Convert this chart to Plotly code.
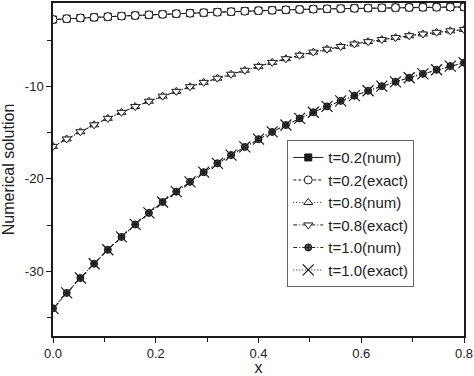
import plotly.graph_objects as go

x_vals = [round(i * 0.8 / 30, 5) for i in range(31)]

t02_num = [-2.79, -2.70, -2.62, -2.55, -2.48, -2.41, -2.35, -2.28, -2.22, -2.16,
           -2.10, -2.05, -1.99, -1.94, -1.88, -1.83, -1.78, -1.74, -1.70, -1.66,
           -1.63, -1.60, -1.57, -1.55, -1.52, -1.50, -1.48, -1.46, -1.45, -1.44, -1.43]
t02_exact = list(t02_num)

t08_num = [-16.50, -15.70, -14.92, -14.17, -13.47, -12.82, -12.20, -11.62, -11.07, -10.55,
           -10.05, -9.58, -9.13, -8.70, -8.27, -7.85, -7.42, -7.02, -6.65, -6.31,
           -5.99, -5.70, -5.43, -5.18, -4.95, -4.74, -4.54, -4.35, -4.17, -4.01, -3.86]
t08_exact = list(t08_num)

t10_num = [-34.01, -32.34, -30.73, -29.19, -27.68, -26.29, -24.94, -23.69, -22.51, -21.40,
           -20.33, -19.29, -18.33, -17.44, -16.56, -15.72, -14.94, -14.19, -13.48, -12.81,
           -12.18, -11.58, -11.02, -10.49, -9.99, -9.52, -9.08, -8.66, -8.22, -7.82, -7.45]
t10_exact = list(t10_num)

names = ["t=0.2(num)", "t=0.2(exact)", "t=0.8(num)", "t=0.8(exact)", "t=1.0(num)", "t=1.0(exact)"]

x_tickvals = [0.0, 0.2, 0.4, 0.6, 0.8]
x_ticktext = ["0.0", "0.2", "0.4", "0.6", "0.8"]
y_tickvals = [-30, -20, -10]
y_ticktext = ["-30", "-20", "-10"]

FONT = "Liberation Sans, Arial, sans-serif"

fig = go.Figure()

def add(y, name, dash, symbol, size, fill, lw=1.0, mlw=1.0):
    fig.add_trace(go.Scatter(
        x=x_vals, y=y, name=name, mode="lines+markers",
        line=dict(color="#1a1a1a", width=lw, dash=dash),
        marker=dict(symbol=symbol, size=size, color=fill,
                    line=dict(color="#1a1a1a", width=mlw)),
    ))

add(t02_num, names[0], "solid", "square", 7, "#1a1a1a")
add(t02_exact, names[1], "3px,2px", "circle", 8, "white")
add(t08_num, names[2], "1px,2px", "triangle-up", 8, "white")
add(t08_exact, names[3], "4px,2px,1px,2px", "triangle-down", 8, "white")
add(t10_num, names[4], "4px,2px,1px,2px", "circle-cross", 7, "#555555")
add(t10_exact, names[5], "1px,2px", "x-thin", 11, "#1a1a1a", mlw=1.2)

axis_common = dict(
    showline=True, linecolor="#1a1a1a", linewidth=1.5, mirror=True,
    showgrid=False, zeroline=False,
    ticks="outside", ticklen=5, tickwidth=1, tickcolor="#1a1a1a",
    tickfont=dict(family=FONT, size=13, color="#222222"),
    ticklabeloverflow="allow",
)

fig.update_layout(
    width=474, height=376,
    margin=dict(l=53, r=9, t=1, b=40),
    paper_bgcolor="white", plot_bgcolor="white",
    font=dict(family=FONT, color="#222222"),
    showlegend=True,
    legend=dict(
        x=0.570, y=0.588, xanchor="left", yanchor="top",
        bordercolor="#666666", borderwidth=1, bgcolor="white",
        font=dict(family=FONT, size=15, color="#222222"),
        itemwidth=30, tracegroupgap=0,
    ),
    xaxis=dict(
        range=[0, 0.8], tickvals=x_tickvals, ticktext=x_ticktext,
        minor=dict(dtick=0.1, tick0=0, ticks="outside", ticklen=4, tickcolor="#1a1a1a"),
        title=dict(text="x", font=dict(family=FONT, size=16, color="#222222"), standoff=0),
        **axis_common,
    ),
    yaxis=dict(
        range=[-37, -1], tickvals=y_tickvals, ticktext=y_ticktext,
        minor=dict(dtick=5, tick0=0, ticks="outside", ticklen=4, tickcolor="#1a1a1a"),
        title=dict(text="Numerical solution", font=dict(family=FONT, size=16, color="#222222"), standoff=8),
        **axis_common,
    ),
)

fig.write_html("out.html", config={"displayModeBar": False},
               post_script="document.body.style.margin='0';")
